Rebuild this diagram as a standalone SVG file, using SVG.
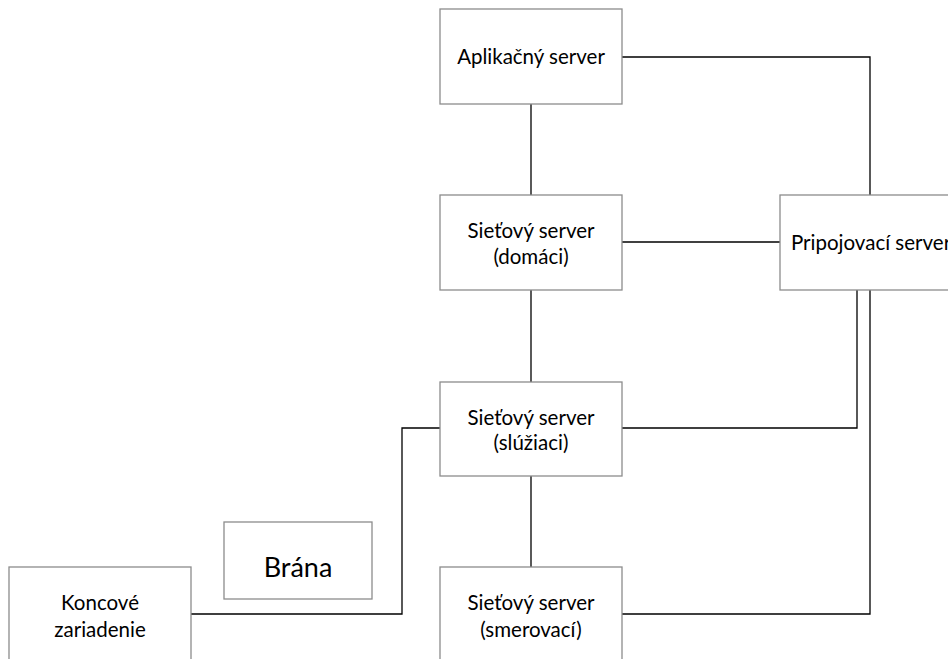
<svg xmlns="http://www.w3.org/2000/svg" width="948" height="659" viewBox="0 0 948 659">
<style>
.box{fill:#fff;stroke:#8c8c8c;stroke-width:1.3}
.t{font-family:Lato,"Open Sans","Liberation Sans",sans-serif;font-size:20.5px;fill:#000;text-anchor:middle}
.big{font-size:27px}
.c{fill:none;stroke:#000;stroke-width:1.3}
</style>
<rect width="948" height="659" fill="#fff"/>
<g id="connectors">
<path class="c" d="M531,104V195"/>
<path class="c" d="M531,290V382"/>
<path class="c" d="M531,476V567"/>
<path class="c" d="M622,57H870V195"/>
<path class="c" d="M622,242H780"/>
<path class="c" d="M622,428H857V290"/>
<path class="c" d="M622,614H870V290"/>
<path class="c" d="M191,614H402V428H440"/>
</g>
<g id="aplikacny">
<rect class="box" x="440" y="9" width="182" height="95"/>
<text class="t" x="531" y="64">Aplikačný server</text>
</g>
<g id="domaci">
<rect class="box" x="440" y="195" width="182" height="95"/>
<text class="t" x="531" y="238">Sieťový server</text>
<text class="t" x="531" y="264">(domáci)</text>
</g>
<g id="pripojovaci">
<rect class="box" x="780" y="195" width="182" height="95"/>
<text class="t" x="791" y="250" style="text-anchor:start">Pripojovací server</text>
</g>
<g id="sluziaci">
<rect class="box" x="440" y="382" width="182" height="94"/>
<text class="t" x="531" y="425">Sieťový server</text>
<text class="t" x="531" y="450">(slúžiaci)</text>
</g>
<g id="smerovaci">
<rect class="box" x="440" y="567" width="182" height="100"/>
<text class="t" x="531" y="610">Sieťový server</text>
<text class="t" x="531" y="637">(smerovací)</text>
</g>
<g id="brana">
<rect class="box" x="224" y="522" width="148" height="77"/>
<text class="t big" x="298" y="577">Brána</text>
</g>
<g id="koncove">
<rect class="box" x="9" y="567" width="182" height="100"/>
<text class="t" x="100" y="610">Koncové</text>
<text class="t" x="100" y="637">zariadenie</text>
</g>
</svg>
